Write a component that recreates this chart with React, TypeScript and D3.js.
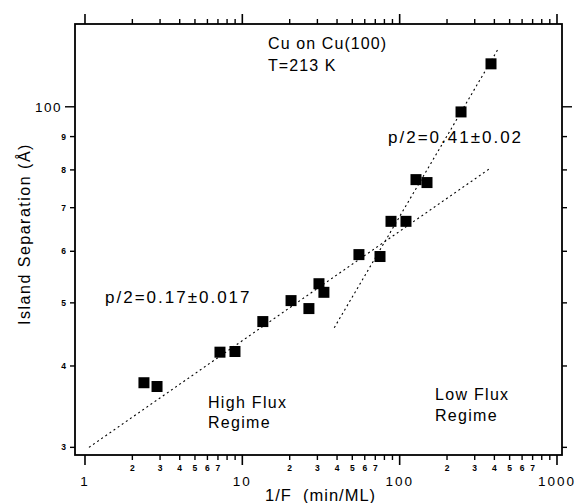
import React from "react";
import * as d3 from "d3";

// measured points: 1/F (min/ML) vs island separation (Å)
const fluxInv = [2.37, 2.87, 7.21, 8.98, 13.5, 20.4, 26.5, 30.7, 33.0, 55.1, 75.0, 88.1, 109.7, 127.0, 149.2, 245.5, 380.7];
const separation = [37.7, 37.2, 42.0, 42.1, 46.8, 50.4, 49.0, 53.5, 51.9, 59.3, 58.9, 66.7, 66.7, 77.3, 76.5, 98.2, 116.4];

// fit lines (end points)
const highFluxFitX = [1.06, 380];
const highFluxFitY = [30.0, 80.6];
const lowFluxFitX = [38.4, 427];
const lowFluxFitY = [45.8, 123.2];

const xMajors = [1, 10, 100, 1000];
const xMinorLabels = [2, 3, 4, 5, 6, 7];
const yTicks = [30, 40, 50, 60, 70, 80, 90, 100];
const yLabels = ["3", "4", "5", "6", "7", "8", "9", "100"];

const W = 577;
const H = 503;
const left = 75;
const right = 562;
const top = 24;
const bottom = 455;

const font = "'Liberation Sans', Arial, Helvetica, sans-serif";

export default function App() {
  const x = d3.scaleLog().domain([0.864, 1076]).range([left, right]);
  const y = d3.scaleLog().domain([29.2, 134]).range([bottom, top]);

  // minor ticks 2..9 in every decade
  const xMinor: { v: number; k: number }[] = [];
  [1, 10, 100].forEach((d) => {
    for (let k = 2; k <= 9; k++) xMinor.push({ v: d * k, k });
  });

  const line = d3
    .line<[number, number]>()
    .x((d) => x(d[0]))
    .y((d) => y(d[1]));

  const highFit: [number, number][] = highFluxFitX.map((v, i) => [v, highFluxFitY[i]]);
  const lowFit: [number, number][] = lowFluxFitX.map((v, i) => [v, lowFluxFitY[i]]);

  const sq = 11;

  return (
    <svg
      width={W}
      height={H}
      style={{ position: "absolute", left: 0, top: 0, background: "#fff" }}
      fontFamily={font}
    >
      {/* frame */}
      <rect x={left} y={top} width={right - left} height={bottom - top} fill="none" stroke="#000" strokeWidth={1.8} />

      {/* bottom + top ticks */}
      {xMajors.map((v) => (
        <g key={"xm" + v}>
          <line x1={x(v)} x2={x(v)} y1={bottom} y2={bottom + 10} stroke="#000" strokeWidth={1.6} />
          <line x1={x(v)} x2={x(v)} y1={top} y2={top - 10} stroke="#000" strokeWidth={1.6} />
          <text x={x(v)} y={486} textAnchor="middle" fontSize={13.5} letterSpacing={2}>
            {v}
          </text>
        </g>
      ))}
      {xMinor.map(({ v, k }) => (
        <g key={"xn" + v}>
          <line x1={x(v)} x2={x(v)} y1={bottom} y2={bottom + 5} stroke="#000" strokeWidth={1.4} />
          <line x1={x(v)} x2={x(v)} y1={top} y2={top - 5} stroke="#000" strokeWidth={1.4} />
          {xMinorLabels.includes(k) && (
            <text x={x(v)} y={471} textAnchor="middle" fontSize={8.5} fontWeight="bold">
              {k}
            </text>
          )}
        </g>
      ))}

      {/* left + right ticks */}
      {yTicks.map((v, i) => {
        const major = v === 100;
        const len = major ? 10 : 5;
        return (
          <g key={"y" + v}>
            <line x1={left} x2={left - len} y1={y(v)} y2={y(v)} stroke="#000" strokeWidth={1.4} />
            <line x1={right} x2={right + len} y1={y(v)} y2={y(v)} stroke="#000" strokeWidth={1.4} />
            <text
              x={major ? 62 : 66}
              y={y(v)}
              dy="0.35em"
              textAnchor="end"
              fontSize={major ? 13.5 : 8.5}
              fontWeight={major ? "normal" : "bold"}
              letterSpacing={major ? 1.5 : 0}
            >
              {yLabels[i]}
            </text>
          </g>
        );
      })}

      {/* axis titles */}
      <text x={265} y={501} fontSize={16.5} letterSpacing={1} xmlSpace="preserve">
        {"1/F  (min/ML)"}
      </text>
      <text
        transform={`translate(30,234) rotate(-90)`}
        textAnchor="middle"
        fontSize={16}
        letterSpacing={1.5}
      >
        Island Separation (Å)
      </text>

      {/* fits */}
      <path d={line(highFit) || ""} fill="none" stroke="#000" strokeWidth={1.1} strokeDasharray="2,3" />
      <path d={line(lowFit) || ""} fill="none" stroke="#000" strokeWidth={1.1} strokeDasharray="2,3" />

      {/* data */}
      {fluxInv.map((v, i) => (
        <rect key={i} x={x(v) - sq / 2} y={y(separation[i]) - sq / 2} width={sq} height={sq} fill="#000" />
      ))}

      {/* annotations */}
      <g fontSize={16} letterSpacing={1.1} xmlSpace="preserve">
        <text x={268} y={49}>Cu on Cu(100)</text>
        <text x={268} y={71}>{"T=213  K"}</text>
        <text x={208} y={408} letterSpacing={1.3}>High Flux</text>
        <text x={208} y={428} letterSpacing={1.3}>Regime</text>
        <text x={435} y={400} letterSpacing={1.3}>Low Flux</text>
        <text x={435} y={421} letterSpacing={1.3}>Regime</text>
      </g>
      <g fontSize={17} letterSpacing={2}>
        <text x={388} y={143}>p/2=0.41±0.02</text>
        <text x={105} y={303}>p/2=0.17±0.017</text>
      </g>
    </svg>
  );
}
